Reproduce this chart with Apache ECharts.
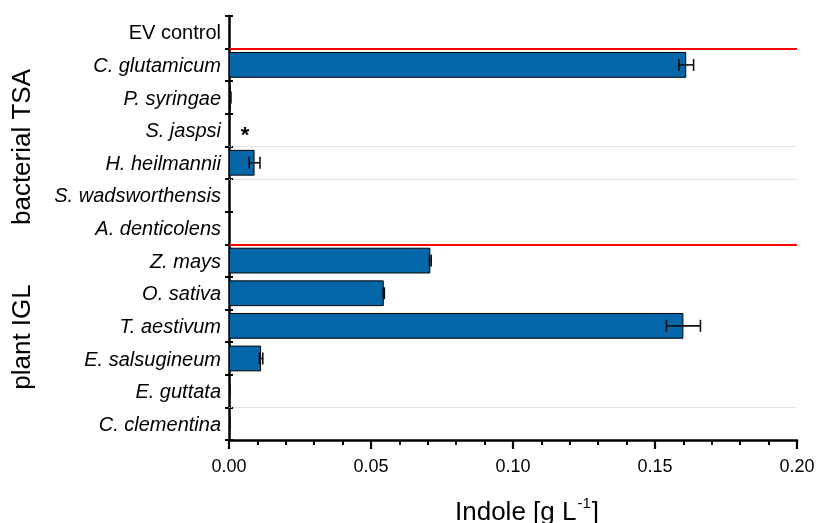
<!DOCTYPE html>
<html>
<head>
<meta charset="utf-8">
<script src="https://cdn.jsdelivr.net/npm/echarts@6/dist/echarts.min.js"></script>
<style>html,body{margin:0;padding:0;background:#fff}#c{width:816px;height:523px}</style>
</head>
<body>
<div id="c"></div>
<script>
const categories = ['EV control','C. glutamicum','P. syringae','S. jaspsi','H. heilmannii','S. wadsworthensis','A. denticolens','Z. mays','O. sativa','T. aestivum','E. salsugineum','E. guttata','C. clementina'];
const indole = [null,0.161,0.0006,null,0.009,null,null,0.0709,0.0545,0.160,0.0113,0.0004,0.0004];
const indoleErr = [null,0.0026,0,null,0.0019,null,null,0.0003,0.0002,0.006,0.0006,0,0];
const groupBoundaries = [1,7];
const dottedBoundaries = [4,5,12];
const groupLabels = ['bacterial TSA','plant IGL'];
const markedCategory = 'S. jaspsi';
const xMin = 0, xMax = 0.2, xStep = 0.05;

const FONT = 'Liberation Sans, Arial, sans-serif';
const chart = echarts.init(document.getElementById('c'), null, {renderer:'canvas'});

const errData = categories.map((c,i)=> indole[i]==null ? null : [indole[i], i, indoleErr[i]]).filter(d=>d);

const option = {
  animation:false,
  backgroundColor:'#fff',
  textStyle:{fontFamily:FONT},
  grid:{left:229,right:19,top:16,bottom:83,containLabel:false,outerBoundsMode:'none'},
  xAxis:{
    type:'value',min:xMin,max:xMax,interval:xStep,
    axisLine:{show:true,onZero:false,lineStyle:{color:'#000',width:2.5}},
    axisTick:{show:true,length:9,lineStyle:{color:'#000',width:2.2}},
    minorTick:{show:true,splitNumber:5,length:5,lineStyle:{color:'#000',width:2}},
    splitLine:{show:false},
    axisLabel:{color:'#000',fontSize:18,fontFamily:FONT,margin:18,formatter:v=>v.toFixed(2)},
    name:'{a|Indole [g L}{s|-1}{a|]}',
    nameLocation:'middle',nameGap:56,
    nameTextStyle:{padding:[0,0,0,28],rich:{a:{fontSize:26,fontFamily:FONT,color:'#000',lineHeight:30,verticalAlign:'bottom'},s:{fontSize:15,fontFamily:FONT,color:'#000',lineHeight:30,verticalAlign:'top',padding:[0,1,14,1]}}}
  },
  yAxis:[
    {
      type:'category',data:categories,inverse:true,
      axisLine:{show:true,lineStyle:{color:'#000',width:2.5}},
      axisTick:{show:true,length:4,lineStyle:{color:'#000',width:2}},
      splitLine:{show:false},
      axisLabel:{
        margin:8,
        formatter:v=> v==='EV control' ? '{n|'+v+'}' : '{i|'+v+'}',
        rich:{
          n:{fontSize:20,fontFamily:FONT,color:'#000',padding:[3,0,0,0]},
          i:{fontSize:20,fontFamily:FONT,color:'#000',fontStyle:'italic',padding:[3,0,0,0]}
        }
      }
    },
    {
      type:'category',data:categories,inverse:true,position:'left',
      axisLine:{show:false},
      axisTick:{show:true,inside:true,length:4,lineStyle:{color:'#000',width:2}},
      axisLabel:{show:false},splitLine:{show:false}
    },
    {type:'value',min:0,max:categories.length,inverse:true,show:false}
  ],
  series:[
    {
      type:'line',xAxisIndex:0,yAxisIndex:2,data:[[0,0]],symbol:'none',lineStyle:{opacity:0},silent:true,
      markLine:{silent:true,symbol:['none','none'],label:{show:false},
        lineStyle:{color:'#c8c8c8',width:1,type:'dotted'},
        data:dottedBoundaries.map(v=>({yAxis:v}))},
      z:1
    },
    {
      type:'bar',yAxisIndex:0,data:indole,barWidth:'79%',
      itemStyle:{color:'#0567a9',borderColor:'#000',borderWidth:1},
      markPoint:{symbol:'circle',symbolSize:0,
        label:{show:true,formatter:'*',fontSize:22,fontWeight:'bold',color:'#000',offset:[16,6]},
        data:[{coord:[0,markedCategory]}]},
      z:2
    },
    {
      type:'custom',yAxisIndex:0,data:errData,encode:{x:0,y:1},
      renderItem:(params,api)=>{
        const v=api.value(0), idx=api.value(1), e=api.value(2);
        const lo=api.coord([v-e,idx]), hi=api.coord([v+e,idx]);
        const h=6;
        const st={stroke:'#111',lineWidth:1.6};
        return {type:'group',children:[
          {type:'line',shape:{x1:lo[0],y1:lo[1],x2:hi[0],y2:hi[1]},style:st},
          {type:'line',shape:{x1:lo[0],y1:lo[1]-h,x2:lo[0],y2:lo[1]+h},style:st},
          {type:'line',shape:{x1:hi[0],y1:hi[1]-h,x2:hi[0],y2:hi[1]+h},style:st}
        ]};
      },
      z:3
    },
    {
      type:'line',xAxisIndex:0,yAxisIndex:2,data:[[0,0]],symbol:'none',lineStyle:{opacity:0},silent:true,
      markLine:{silent:true,symbol:['none','none'],label:{show:false},
        lineStyle:{color:'#ff0000',width:2,type:'solid'},
        data:groupBoundaries.map(v=>({yAxis:v}))},
      z:4
    }
  ],
  graphic:[
    {type:'text',x:23,y:147,rotation:Math.PI/2,style:{text:groupLabels[0],fontSize:26,fontFamily:FONT,fill:'#000',align:'center',verticalAlign:'middle'}},
    {type:'text',x:23,y:337,rotation:Math.PI/2,style:{text:groupLabels[1],fontSize:26,fontFamily:FONT,fill:'#000',align:'center',verticalAlign:'middle'}}
  ]
};
chart.setOption(option);
</script>
</body>
</html>
